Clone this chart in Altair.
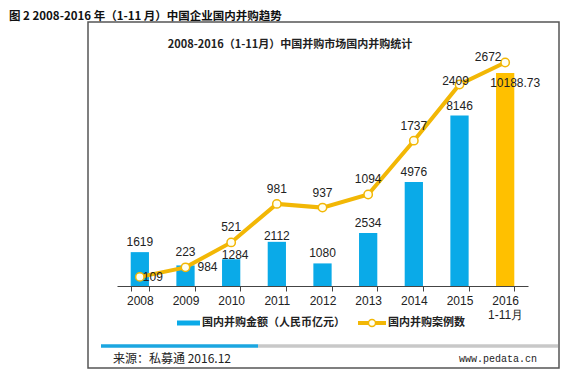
import altair as alt
import pandas as pd

years = ["2008", "2009", "2010", "2011", "2012", "2013", "2014", "2015", "2016"]
amounts = [1619, 984, 1284, 2112, 1080, 2534, 4976, 8146, 10188.73]
amount_labels = ["1619", "984", "1284", "2112", "1080", "2534", "4976", "8146", "10188.73"]
cases = [109, 223, 521, 981, 937, 1094, 1737, 2409, 2672]

page_title = "图 2 2008-2016 年（1-11 月）中国企业国内并购趋势"
chart_title = "2008-2016（1-11月）中国并购市场国内并购统计"
legend_amount = "国内并购金额（人民币亿元）"
legend_cases = "国内并购案例数"
source_text = "来源：私募通  2016.12"
site_text = "www.pedata.cn"

df = pd.DataFrame({"year": years, "amount": amounts, "alabel": amount_labels, "cases": cases})
one = pd.DataFrame({"k": [0]})

BLUE = "#0AAAE8"
GOLD = "#FFC000"
LINE = "#F2B705"
NUM_FONT = "Liberation Sans"
CJK = "Noto Sans CJK SC"

xenc = alt.X("year:N", sort=years, title=None,
             scale=alt.Scale(paddingInner=0.6, paddingOuter=0.3),
             axis=alt.Axis(labelAngle=0, domainColor="#444", tickColor="#444", tickSize=5,
                           tickBand="extent", labelFont=NUM_FONT, labelFontSize=12,
                           labelColor="#222", labelPadding=4, labelLineHeight=14,
                           labelExpr="datum.value == '2016' ? ['2016', '1-11月'] : datum.value"))
ybar = alt.Y("amount:Q", scale=alt.Scale(domain=[0, 12000]), axis=None)
yline = alt.Y("cases:Q", scale=alt.Scale(domain=[0, 3000]), axis=None)

base = alt.Chart(df)

bars = base.mark_bar().encode(
    x=xenc, y=ybar,
    color=alt.condition("datum.year == '2016'", alt.value(GOLD), alt.value(BLUE)),
)

def bar_text(filt, dx, dy):
    return base.transform_filter(filt).mark_text(
        font=NUM_FONT, fontSize=12, color="#222", baseline="middle", dx=dx, dy=dy
    ).encode(x=xenc, y=ybar, text="alabel:N")

bl_default = bar_text("datum.year != '2009' && datum.year != '2016' && datum.year != '2011' && datum.year != '2010'", 0, -10)
bl_2009 = bar_text("datum.year == '2009'", 22, 2)
bl_2010 = bar_text("datum.year == '2010'", 4, -4)
bl_2011 = bar_text("datum.year == '2011'", 0, -6)
bl_2016 = bar_text("datum.year == '2016'", 10, 10)

line = base.mark_line(color=LINE, strokeWidth=4).encode(x=xenc, y=yline)
pts = base.mark_point(filled=True, fill="#FFFFF2", stroke=LINE, strokeWidth=1.5,
                      size=70, opacity=1, shape="circle").encode(x=xenc, y=yline)

def line_text(filt, dx, dy):
    return base.transform_filter(filt).mark_text(
        font=NUM_FONT, fontSize=12, color="#222", baseline="middle", dx=dx, dy=dy
    ).encode(x=xenc, y=yline, text="cases:Q")

ll_default = line_text("datum.year != '2008' && datum.year != '2015' && datum.year != '2016'", 0, -15)
ll_2008 = line_text("datum.year == '2008'", 13, 0)
ll_2015 = line_text("datum.year == '2015'", -4, -3)
ll_2016 = line_text("datum.year == '2016'", -17, -5)

oc = alt.Chart(one)
frame = oc.mark_rect(fill=None, stroke="#555", strokeWidth=1.5).encode(
    x=alt.value(-29), x2=alt.value(442), y=alt.value(-13), y2=alt.value(333))
ptitle = oc.mark_text(text=page_title, font=CJK, fontSize=11.5, fontWeight="bold",
                      align="left", baseline="middle", color="#111").encode(
    x=alt.value(-108), y=alt.value(-18))
ctitle = oc.mark_text(text=chart_title, font=CJK, fontSize=11, fontWeight="bold",
                      align="center", baseline="middle", color="#222").encode(
    x=alt.value(173), y=alt.value(10))
leg_sw1 = oc.mark_rule(color=BLUE, strokeWidth=5).encode(
    x=alt.value(60), x2=alt.value(83), y=alt.value(288))
leg_t1 = oc.mark_text(text=legend_amount, font=CJK, fontSize=11, fontWeight="bold",
                      align="left", baseline="middle", color="#222").encode(
    x=alt.value(85), y=alt.value(288))
leg_sw2 = oc.mark_rule(color=LINE, strokeWidth=4).encode(
    x=alt.value(241), x2=alt.value(269), y=alt.value(288))
leg_pt = oc.mark_point(filled=True, fill="#FFFFF2", stroke=LINE, strokeWidth=1.5,
                       size=50, opacity=1).encode(x=alt.value(255), y=alt.value(288))
leg_t2 = oc.mark_text(text=legend_cases, font=CJK, fontSize=11, fontWeight="bold",
                      align="left", baseline="middle", color="#222").encode(
    x=alt.value(271), y=alt.value(288))
bot_gray = oc.mark_rule(color="#C8C8C8", strokeWidth=3.5).encode(
    x=alt.value(141), x2=alt.value(441), y=alt.value(311))
bot_blue = oc.mark_rule(color="#1BA6E0", strokeWidth=3.5).encode(
    x=alt.value(-16), x2=alt.value(141), y=alt.value(311))
src = oc.mark_text(text=source_text, font=CJK, fontSize=12, align="left",
                   baseline="middle", color="#222").encode(x=alt.value(-4), y=alt.value(324))
site = oc.mark_text(text=site_text, font="Liberation Mono", fontSize=10, align="right",
                    baseline="middle", color="#222").encode(x=alt.value(420), y=alt.value(324))

chart = alt.layer(
    bars, bl_default, bl_2009, bl_2010, bl_2011, bl_2016,
    line, pts, ll_default, ll_2008, ll_2015, ll_2016,
    frame, ptitle, ctitle, leg_sw1, leg_t1, leg_sw2, leg_pt, leg_t2,
    bot_gray, bot_blue, src, site,
).resolve_scale(y="independent").properties(
    width=411, height=251,
    padding={"left": 109, "top": 27, "right": 32, "bottom": 84},
    autosize=alt.AutoSizeParams(type="none"),
    background="white",
).configure_view(stroke=None)

chart.save("out.html", embed_options={"renderer": "svg", "actions": False})
